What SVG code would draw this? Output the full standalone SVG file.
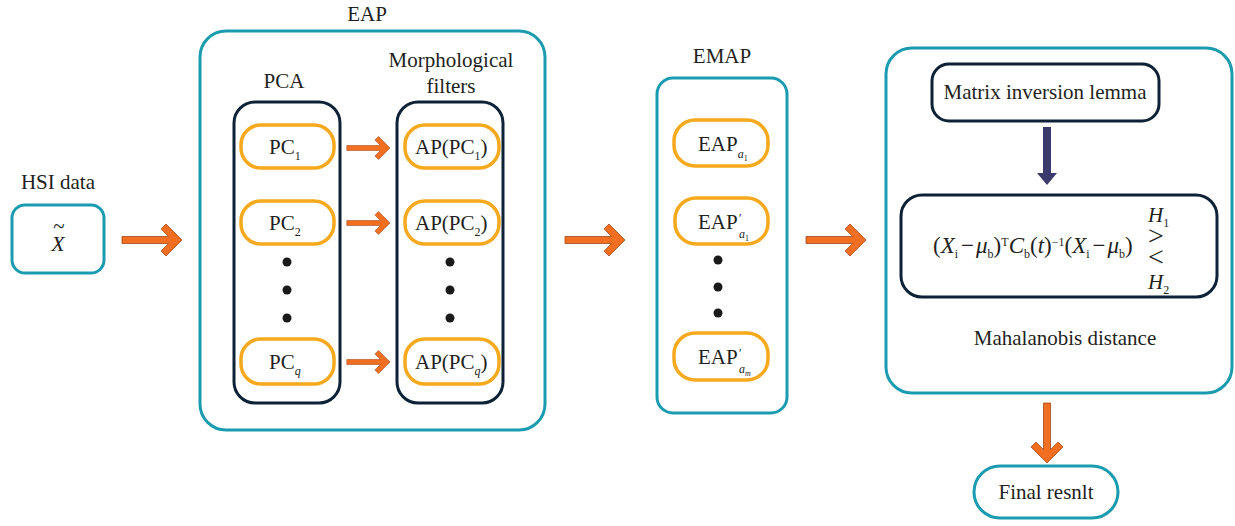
<svg xmlns="http://www.w3.org/2000/svg" width="1235" height="526" viewBox="0 0 1235 526">
  <style>
    .teal { fill: #ffffff; stroke: #1a9bb0; stroke-width: 3; }
    .navy { fill: none; stroke: #0d2236; stroke-width: 3; }
    .gold { fill: #ffffff; stroke: #f6a91d; stroke-width: 3.5; }
    .txt { font-family: "Liberation Serif", "Times New Roman", serif; font-size: 21px; fill: #231f20; }
    .mid { text-anchor: middle; }
    .it { font-style: italic; }
    .sub { font-size: 12px; }
    .tiny { font-size: 8px; }
    .dot { fill: #1a1a1a; }
    .orange { fill: #f26f21; stroke: #a5461a; stroke-width: 0.8; }
  </style>
  <defs>
    <!-- chevron-headed block arrow, tip at the origin, pointing right -->
    <path id="blockArrow" d="M-60,-3.5 L-13.4,-3.5 L-20.95,-11.05 L-16,-16 L0,0 L-16,16 L-20.95,11.05 L-13.4,3.5 L-60,3.5 Z"/>
  </defs>

  <!-- input -->
  <g id="hsi">
    <text class="txt mid" x="58" y="189">HSI data</text>
    <rect class="teal" x="12" y="205" width="92" height="68" rx="13"/>
    <text class="txt mid it" x="58" y="251" style="font-size:22px">X</text>
    <text class="txt mid" x="59" y="233" style="font-size:21px">~</text>
  </g>

  <!-- extended attribute profile stage -->
  <g id="eap">
    <text class="txt mid" x="367" y="21">EAP</text>
    <rect class="teal" x="200" y="31" width="345" height="399" rx="26"/>
  </g>

  <g id="pca">
    <text class="txt mid" x="284" y="88">PCA</text>
    <rect class="navy" x="234" y="102" width="106" height="301" rx="21"/>
    <g id="pc1">
      <rect class="gold" x="241" y="125" width="93" height="43" rx="20"/>
      <text class="txt" x="269" y="154">PC<tspan class="sub" dy="6">1</tspan></text>
    </g>
    <g id="pc2">
      <rect class="gold" x="241" y="201" width="93" height="43" rx="20"/>
      <text class="txt" x="269" y="230">PC<tspan class="sub" dy="6">2</tspan></text>
    </g>
    <circle class="dot" cx="287" cy="262" r="4.5"/>
    <circle class="dot" cx="287" cy="290" r="4.5"/>
    <circle class="dot" cx="287" cy="318" r="4.5"/>
    <g id="pcq">
      <rect class="gold" x="241" y="339" width="93" height="45" rx="20"/>
      <text class="txt" x="269" y="369">PC<tspan class="sub it" dy="6">q</tspan></text>
    </g>
  </g>

  <g id="morph">
    <text class="txt mid" x="451" y="67">Morphological</text>
    <text class="txt mid" x="451" y="93">filters</text>
    <rect class="navy" x="397" y="102" width="106" height="301" rx="21"/>
    <g id="ap1">
      <rect class="gold" x="405" y="125" width="94" height="43" rx="20"/>
      <text class="txt" x="415" y="154">AP(PC<tspan class="sub" dy="6">1</tspan><tspan dy="-6">)</tspan></text>
    </g>
    <g id="ap2">
      <rect class="gold" x="405" y="201" width="94" height="43" rx="20"/>
      <text class="txt" x="415" y="230">AP(PC<tspan class="sub" dy="6">2</tspan><tspan dy="-6">)</tspan></text>
    </g>
    <circle class="dot" cx="450" cy="262" r="4.5"/>
    <circle class="dot" cx="450" cy="290" r="4.5"/>
    <circle class="dot" cx="450" cy="318" r="4.5"/>
    <g id="apq">
      <rect class="gold" x="405" y="339" width="94" height="45" rx="20"/>
      <text class="txt" x="415" y="369">AP(PC<tspan class="sub it" dy="6">q</tspan><tspan dy="-6">)</tspan></text>
    </g>
  </g>

  <!-- extended multi-attribute profile -->
  <g id="emap">
    <text class="txt mid" x="722" y="63">EMAP</text>
    <rect class="teal" x="657" y="78" width="130" height="335" rx="16"/>
    <g id="eapa1">
      <rect class="gold" x="674" y="120" width="94" height="46" rx="21"/>
      <text class="txt" x="698" y="151">EAP<tspan class="sub it" dy="7">a</tspan><tspan class="tiny" dy="3">1</tspan></text>
    </g>
    <g id="eapa1p">
      <rect class="gold" x="675" y="198" width="93" height="46" rx="21"/>
      <text class="txt" x="698" y="229">EAP</text>
      <text class="txt" x="739" y="222" style="font-size:12px">′</text>
      <text class="txt" x="739" y="238"><tspan class="sub it">a</tspan><tspan class="tiny" dy="3">1</tspan></text>
    </g>
    <circle class="dot" cx="718" cy="260" r="4.5"/>
    <circle class="dot" cx="718" cy="287" r="4.5"/>
    <circle class="dot" cx="718" cy="313" r="4.5"/>
    <g id="eapam">
      <rect class="gold" x="674" y="333" width="94" height="47" rx="21"/>
      <text class="txt" x="698" y="364">EAP</text>
      <text class="txt" x="739" y="357" style="font-size:12px">′</text>
      <text class="txt" x="739" y="373"><tspan class="sub it">a</tspan><tspan class="tiny it" dy="3">m</tspan></text>
    </g>
  </g>

  <!-- detector -->
  <g id="detector">
    <rect class="teal" x="886" y="48" width="346" height="345" rx="26"/>
    <g id="lemma">
      <rect class="navy" x="932" y="64" width="227" height="57" rx="17"/>
      <text class="txt mid" x="1045" y="99">Matrix inversion lemma</text>
    </g>
    <g id="mahal">
      <rect class="navy" x="901" y="195" width="316" height="102" rx="21"/>
      <text class="txt" x="933" y="253" style="font-size:23px">(<tspan class="it">X</tspan><tspan class="sub" dy="5">i</tspan><tspan dx="3" dy="-5">−</tspan><tspan class="it" dx="2">μ</tspan><tspan class="sub" dy="5">b</tspan><tspan dy="-5">)</tspan><tspan class="sub" dy="-7">T</tspan><tspan class="it" dy="7">C</tspan><tspan class="sub" dy="5">b</tspan><tspan dy="-5">(</tspan><tspan class="it">t</tspan>)<tspan class="sub" dy="-7">−1</tspan><tspan dy="7">(</tspan><tspan class="it">X</tspan><tspan class="sub" dy="5">i</tspan><tspan dx="3" dy="-5">−</tspan><tspan class="it" dx="2">μ</tspan><tspan class="sub" dy="5">b</tspan><tspan dy="-5">)</tspan></text>
      <text class="txt it" x="1148" y="222">H<tspan class="sub" style="font-style:normal" dy="5">1</tspan></text>
      <text class="txt" x="1148" y="245" style="font-size:28px">&gt;</text>
      <text class="txt" x="1148" y="266" style="font-size:28px">&lt;</text>
      <text class="txt it" x="1148" y="289">H<tspan class="sub" style="font-style:normal" dy="5">2</tspan></text>
    </g>
    <text class="txt mid" x="1065" y="345">Mahalanobis distance</text>
  </g>

  <g id="result">
    <rect class="teal" x="974" y="466" width="144" height="52" rx="26"/>
    <text class="txt mid" x="1046" y="499">Final resnlt</text>
  </g>

  <!-- connectors -->
  <g id="connectors">
    <use href="#blockArrow" class="orange" transform="translate(182,240)"/>
    <use href="#blockArrow" class="orange" transform="translate(390,148) scale(0.72)"/>
    <use href="#blockArrow" class="orange" transform="translate(390,223) scale(0.72)"/>
    <use href="#blockArrow" class="orange" transform="translate(390,362) scale(0.72)"/>
    <use href="#blockArrow" class="orange" transform="translate(625,240)"/>
    <use href="#blockArrow" class="orange" transform="translate(866,240)"/>
    <use href="#blockArrow" class="orange" transform="translate(1047,463) rotate(90)"/>
    <path d="M1043,127 H1051 V173 H1057 L1047,185 L1037,173 H1043 Z" fill="#3c3a6d"/>
  </g>
</svg>
